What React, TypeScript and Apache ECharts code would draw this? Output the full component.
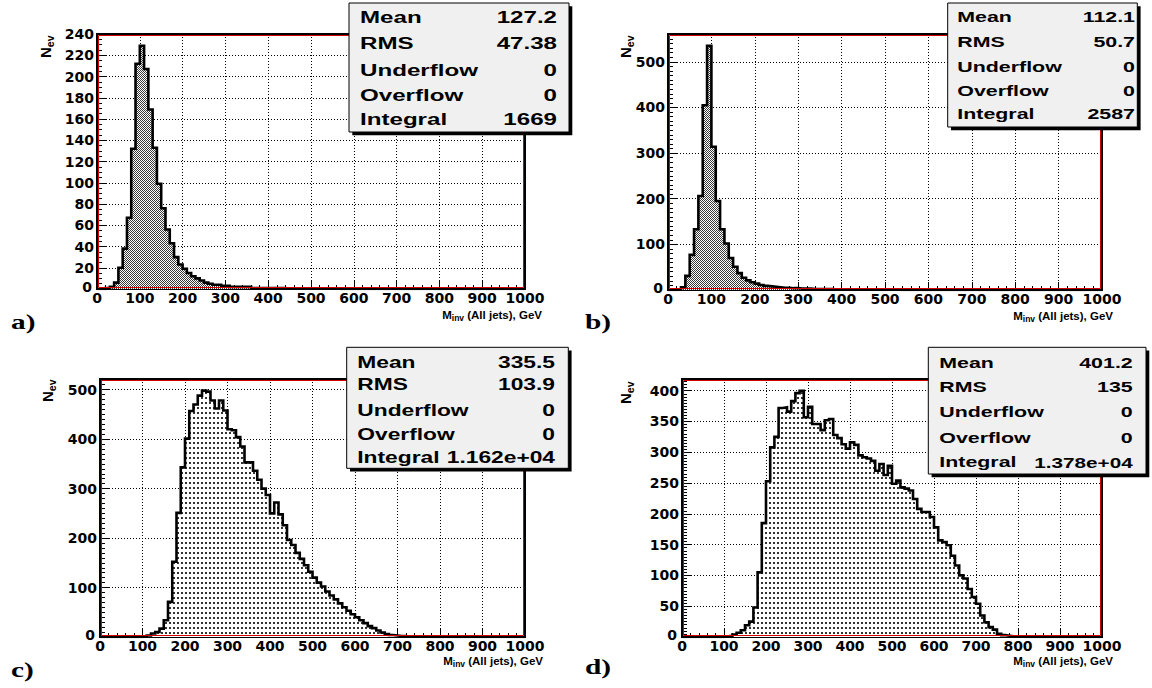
import React, { useEffect, useRef } from "react";
import * as echarts from "echarts";

// ---------------- data ----------------
const BIN_WIDTH = 10; // GeV per bin, 100 bins from 0 to 1000
const X_MIN = 0;
const X_MAX = 1000;
const X_INTERVAL = 100;

const countsA = [
  0, 0, 1, 2, 6, 20, 38, 67, 132, 212,
  229, 207, 169, 133, 99, 76, 56, 43, 30, 23,
  19, 15, 12, 10, 8, 6, 5, 4, 4, 3,
  3, 2, 2, 2, 2, 2, 1, 1, 1, 1,
  1, 1, 1, 1, 0.5, 0.5, 0.5, 0.5, 0.3, 0.3,
  0.3, 0.3, 0.2, 0.2, 0.2, 0.2, 0.1, 0.1, 0.1, 0.1,
  0.1, 0.1, 0, 0, 0, 0, 0, 0, 0, 0,
  0, 0, 0, 0, 0, 0, 0, 0, 0, 0,
  0, 0, 0, 0, 0, 0, 0, 0, 0, 0,
  0, 0, 0, 0, 0, 0, 0, 0, 0, 0,
];

const countsB = [
  0, 0, 1, 6, 31, 77, 133, 206, 405, 535,
  314, 195, 133, 102, 70, 51, 37, 27, 21, 17,
  14, 11, 9, 8, 7, 6, 5, 5, 4, 4,
  3, 3, 3, 2, 2, 2, 2, 2, 1, 1,
  1, 1, 1, 1, 1, 1, 1, 1, 0.5, 0.5,
  0.5, 0.5, 0.5, 0.3, 0.3, 0.3, 0.2, 0.2, 0.2, 0.1,
  0.1, 0.1, 0, 0, 0, 0, 0, 0, 0, 0,
  0, 0, 0, 0, 0, 0, 0, 0, 0, 0,
  0, 0, 0, 0, 0, 0, 0, 0, 0, 0,
  0, 0, 0, 0, 0, 0, 0, 0, 0, 0,
];

const countsC = [
  0, 0, 0, 0, 0, 0, 0, 0, 0, 0,
  1, 3, 7, 10, 17, 34, 71, 152, 251, 343,
  401, 457, 470, 488, 498, 496, 478, 462, 478, 458,
  420, 418, 404, 385, 353, 353, 336, 318, 300, 287,
  250, 272, 248, 226, 196, 186, 170, 158, 145, 132,
  120, 110, 102, 92, 84, 76, 68, 60, 53, 46,
  40, 34, 28, 22, 18, 13, 9, 6, 4, 3,
  2, 2, 1, 1, 1, 0.5, 0.5, 0.3, 0.3, 0.2,
  0.2, 0.1, 0, 0, 0, 0, 0, 0, 0, 0,
  0, 0, 0, 0, 0, 0, 0, 0, 0, 0,
];

const countsD = [
  0, 0, 0, 0, 0, 0, 0, 0, 0, 0,
  1, 2, 4, 7, 11, 19, 25, 48, 105, 185,
  253, 308, 325, 372, 373, 366, 383, 396, 400, 357,
  374, 346, 346, 336, 352, 354, 328, 323, 313, 306,
  316, 312, 295, 292, 290, 286, 270, 281, 263, 278,
  249, 254, 243, 241, 238, 224, 208, 203, 203, 195,
  178, 157, 154, 149, 132, 116, 100, 95, 78, 65,
  54, 35, 24, 16, 12, 5, 3, 2, 1, 0.5,
  0.3, 0.2, 0.1, 0, 0, 0, 0, 0, 0, 0,
  0, 0, 0, 0, 0, 0, 0, 0, 0, 0,
];

const statLabels = ["Mean", "RMS", "Underflow", "Overflow", "Integral"];
const statsA = ["127.2", "47.38", "0", "0", "1669"];
const statsB = ["112.1", "50.7", "0", "0", "2587"];
const statsC = ["335.5", "103.9", "0", "0", "1.162e+04"];
const statsD = ["401.2", "135", "0", "0", "1.378e+04"];

const panelLetters = ["a)", "b)", "c)", "d)"];
const xTitleParts = ["M", "inv", " (All jets), GeV"];
const yTitleParts = ["N", "ev"];

// ---------------- layout / style ----------------
const SANS = "'Liberation Sans', Arial, Helvetica, sans-serif";
const TICK_FONT = "'DejaVu Sans', 'Liberation Sans', sans-serif";
const SERIF = "'Liberation Serif', 'Times New Roman', serif";

type Panel = {
  counts: number[];
  stats: string[];
  letter: string;
  yMax: number;
  yInterval: number;
  yMinor: number;
  showMaxY: boolean;
  fill: "hatch" | "dots";
  grid: { left: number; top: number; width: number; height: number };
  box: {
    x: number; y: number; w: number; h: number;
    labelX: number; valueX: number; rows: number[];
    font: number; valueFont: number; scale: number;
  };
  xTitle: { x: number; y: number };
  yTitle: { x: number; y: number };
  letterPos: { x: number; y: number };
};

const panels: Panel[] = [
  {
    counts: countsA, stats: statsA, letter: panelLetters[0],
    yMax: 240, yInterval: 20, yMinor: 4, showMaxY: true, fill: "hatch",
    grid: { left: 97, top: 34, width: 428, height: 255 },
    box: { x: 349, y: 3, w: 220, h: 129, labelX: 360, valueX: 557, rows: [17, 42.5, 69.5, 94.5, 119], font: 17, valueFont: 17, scale: 1.42 },
    xTitle: { x: 542, y: 314 }, yTitle: { x: 45, y: 58 }, letterPos: { x: 11, y: 322 },
  },
  {
    counts: countsB, stats: statsB, letter: panelLetters[1],
    yMax: 561, yInterval: 100, yMinor: 10, showMaxY: false, fill: "hatch",
    grid: { left: 668, top: 34, width: 434, height: 256 },
    box: { x: 947.7, y: 3, w: 189.6, h: 124, labelX: 957.3, valueX: 1135, rows: [17, 41.7, 66.7, 90.7, 114], font: 15.5, valueFont: 15.5, scale: 1.38 },
    xTitle: { x: 1113, y: 315 }, yTitle: { x: 625, y: 58 }, letterPos: { x: 585, y: 322 },
  },
  {
    counts: countsC, stats: statsC, letter: panelLetters[2],
    yMax: 521.6, yInterval: 100, yMinor: 10, showMaxY: false, fill: "dots",
    grid: { left: 100, top: 379, width: 425, height: 258 },
    box: { x: 346.7, y: 347.3, w: 221.6, h: 121, labelX: 357.3, valueX: 555, rows: [361.7, 384.5, 410, 434, 457.5], font: 16.5, valueFont: 16.5, scale: 1.38 },
    xTitle: { x: 543, y: 660 }, yTitle: { x: 47, y: 402 }, letterPos: { x: 11, y: 670 },
  },
  {
    counts: countsD, stats: statsD, letter: panelLetters[3],
    yMax: 419, yInterval: 50, yMinor: 10, showMaxY: false, fill: "dots",
    grid: { left: 682, top: 379, width: 420, height: 258 },
    box: { x: 928.3, y: 347.3, w: 217.7, h: 126.7, labelX: 939.3, valueX: 1132.7, rows: [362.3, 386.7, 411.7, 437.3, 462], font: 15.5, valueFont: 15, scale: 1.38 },
    xTitle: { x: 1113, y: 660 }, yTitle: { x: 625, y: 404 }, letterPos: { x: 585, y: 667 },
  },
];

function makePattern(kind: "hatch" | "dots") {
  const c = document.createElement("canvas");
  if (kind === "hatch") {
    c.width = 2;
    c.height = 2;
    const ctx = c.getContext("2d")!;
    ctx.fillStyle = "#ffffff";
    ctx.fillRect(0, 0, 2, 2);
    ctx.fillStyle = "#3a3a3a";
    ctx.fillRect(0, 0, 1, 1);
    ctx.fillRect(1, 1, 1, 1);
  } else {
    c.width = 4;
    c.height = 5;
    const ctx = c.getContext("2d")!;
    ctx.fillStyle = "#ffffff";
    ctx.fillRect(0, 0, 4, 5);
    ctx.fillStyle = "#333333";
    ctx.fillRect(1, 2, 2, 2);
  }
  return { image: c.toDataURL(), repeat: "repeat", imageWidth: c.width, imageHeight: c.height };
}

function histData(counts: number[]) {
  const pts: number[][] = counts.map((v, i) => [i * BIN_WIDTH, v]);
  pts.push([counts.length * BIN_WIDTH, counts[counts.length - 1]]);
  return pts;
}

function buildOption() {
  const patterns = { hatch: makePattern("hatch"), dots: makePattern("dots") };
  const grids: any[] = [];
  const xAxes: any[] = [];
  const yAxes: any[] = [];
  const series: any[] = [];
  const graphics: any[] = [];

  panels.forEach((p, i) => {
    grids.push({
      ...p.grid,
      show: true,
      backgroundColor: "#ffffff",
      borderColor: "#000000",
      borderWidth: 2,
      containLabel: false,
    });
    const tickLabel = {
      color: "#000",
      fontFamily: TICK_FONT,
      fontWeight: "bold",
      fontSize: 14,
      lineHeight: 12,
    };
    const gridDots = { color: "#000", width: 1, type: [1, 2] };
    xAxes.push({
      gridIndex: i,
      type: "value",
      min: X_MIN,
      max: X_MAX,
      interval: X_INTERVAL,
      axisLine: { show: false },
      axisTick: { show: true, inside: true, length: 8, lineStyle: { color: "#000", width: 1 } },
      minorTick: { show: true, splitNumber: 5, length: 4, lineStyle: { color: "#000", width: 1 } },
      splitLine: { show: true, lineStyle: gridDots },
      axisLabel: {
        ...tickLabel,
        margin: 3,
        showMinLabel: true,
        showMaxLabel: true,
        formatter: (v: number) => String(v),
      },
    });
    yAxes.push({
      gridIndex: i,
      type: "value",
      min: 0,
      max: p.yMax,
      interval: p.yInterval,
      axisLine: { show: false },
      axisTick: { show: true, inside: true, length: 10, lineStyle: { color: "#000", width: 1 } },
      minorTick: { show: true, splitNumber: p.yMinor, length: 5, lineStyle: { color: "#000", width: 1 } },
      splitLine: { show: true, lineStyle: gridDots },
      axisLabel: {
        ...tickLabel,
        margin: 3,
        showMaxLabel: p.showMaxY,
        formatter: (v: number) => (v === 0 ? "{z|0}" : String(v)),
        rich: { z: { ...tickLabel, padding: [0, 2, 5, 0] } },
      },
    });
    series.push({
      type: "line",
      xAxisIndex: i,
      yAxisIndex: i,
      data: histData(p.counts),
      step: "end",
      symbol: "none",
      showSymbol: false,
      silent: true,
      z: 3,
      lineStyle: { color: "#000", width: 2.6, join: "miter" },
      areaStyle: { color: patterns[p.fill], opacity: 1 },
    });

    // red inner frame
    const g = p.grid;
    graphics.push({
      type: "rect",
      silent: true,
      z: 50,
      shape: { x: g.left + 1.5, y: g.top + 1.5, width: g.width - 3, height: g.height - 3 },
      style: { fill: "none", stroke: "#d40000", lineWidth: 1 },
    });

    // stats box
    const b = p.box;
    graphics.push({
      type: "rect", silent: true, z: 60,
      shape: { x: b.x + 3.3, y: b.y + 3.3, width: b.w, height: b.h },
      style: { fill: "#000" },
    });
    graphics.push({
      type: "rect", silent: true, z: 61,
      shape: { x: b.x, y: b.y, width: b.w, height: b.h },
      style: { fill: "#f0f0f0", stroke: "#000", lineWidth: 1 },
    });
    statLabels.forEach((lab, r) => {
      graphics.push({
        type: "text", silent: true, z: 62,
        x: b.labelX, y: b.rows[r], scaleX: b.scale,
        style: {
          text: lab, fill: "#000",
          font: `bold ${b.font}px ${SANS}`,
          align: "left", verticalAlign: "middle",
          textAlign: "left", textVerticalAlign: "middle",
        },
      });
      const vf = r === 4 ? b.valueFont : b.font;
      graphics.push({
        type: "text", silent: true, z: 62,
        x: b.valueX, y: b.rows[r] + (r === 4 && vf !== b.font ? 1.5 : 0), scaleX: b.scale,
        style: {
          text: p.stats[r], fill: "#000",
          font: `bold ${vf}px ${SANS}`,
          align: "right", verticalAlign: "middle",
          textAlign: "right", textVerticalAlign: "middle",
        },
      });
    });

    // x-axis title
    graphics.push({
      type: "text", silent: true, z: 40,
      x: p.xTitle.x, y: p.xTitle.y,
      style: {
        text: `{m|${xTitleParts[0]}}{s|${xTitleParts[1]}}{m|${xTitleParts[2]}}`,
        fill: "#000",
        align: "right", verticalAlign: "middle",
        textAlign: "right", textVerticalAlign: "middle",
        rich: {
          m: { font: `bold 11.5px ${SANS}`, fill: "#000", lineHeight: 11, verticalAlign: "top" },
          s: { font: `bold 8.5px ${SANS}`, fill: "#000", lineHeight: 8, padding: [5, 0, 0, 0], verticalAlign: "top" },
        },
      },
    });

    // y-axis title (rotated)
    graphics.push({
      type: "text", silent: true, z: 40,
      x: p.yTitle.x, y: p.yTitle.y, rotation: Math.PI / 2,
      style: {
        text: `{n|${yTitleParts[0]}}{s|${yTitleParts[1]}}`,
        fill: "#000",
        align: "left", verticalAlign: "middle",
        textAlign: "left", textVerticalAlign: "middle",
        rich: {
          n: { font: `bold 15px ${SANS}`, fill: "#000", lineHeight: 15, verticalAlign: "top" },
          s: { font: `bold 10.5px ${SANS}`, fill: "#000", lineHeight: 11, padding: [7, 0, 0, 0], verticalAlign: "top" },
        },
      },
    });

    // panel letter
    graphics.push({
      type: "text", silent: true, z: 40,
      x: p.letterPos.x, y: p.letterPos.y, scaleX: 1.4,
      style: {
        text: p.letter, fill: "#000",
        font: `bold 21px ${SERIF}`,
        align: "left", verticalAlign: "middle",
        textAlign: "left", textVerticalAlign: "middle",
      },
    });
  });

  return {
    animation: false,
    backgroundColor: "#ffffff",
    grid: grids,
    xAxis: xAxes,
    yAxis: yAxes,
    series,
    graphic: { elements: graphics },
  };
}

export default function App() {
  const ref = useRef<HTMLDivElement>(null);
  useEffect(() => {
    if (!ref.current) return;
    const chart = echarts.init(ref.current, undefined, { renderer: "svg" });
    chart.setOption(buildOption() as any);
    return () => chart.dispose();
  }, []);
  return (
    <div
      ref={ref}
      style={{ position: "absolute", left: 0, top: 0, width: 1152, height: 688, background: "#fff" }}
    />
  );
}
